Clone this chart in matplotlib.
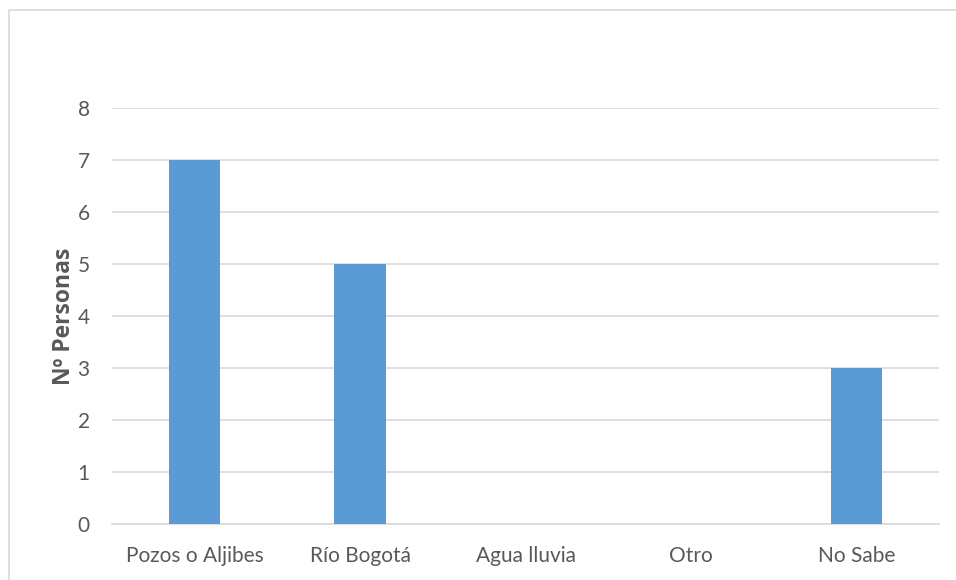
import matplotlib.pyplot as plt
from matplotlib.patches import Rectangle

categories = ["Pozos o Aljibes", "Río Bogotá", "Agua lluvia", "Otro", "No Sabe"]
values = [7, 5, 0, 0, 3]
yticks = [0, 1, 2, 3, 4, 5, 6, 7, 8]

plt.rcParams['font.family'] = ['Lato', 'DejaVu Sans']

W, H = 956, 580
fig = plt.figure(figsize=(W / 100, H / 100), dpi=100)

# outer chart border (only left/top visible in the reference)
fig.patches.append(Rectangle((8.5 / W, -0.1), 1.2, (H - 10) / H + 0.1,
                             transform=fig.transFigure, fill=False,
                             edgecolor="#d9d9d9", lw=1.2))

left, right = 112 / W, 939 / W
bottom, top = (H - 524) / H, (H - 108) / H
ax = fig.add_axes([left, bottom, right - left, top - bottom])

x = range(len(categories))
ax.bar(x, values, width=0.31, color="#5b9bd5", zorder=3)

ax.set_xlim(-0.5, len(categories) - 0.5)
ax.set_ylim(0, 8)
ax.set_yticks(yticks)
ax.set_xticks(list(x))
ax.set_xticklabels(categories)

ax.grid(axis="y", color="#d9d9d9", lw=1.2, zorder=0)
for s in ["top", "right", "left"]:
    ax.spines[s].set_visible(False)
ax.spines["bottom"].set_color("#d9d9d9")
ax.spines["bottom"].set_linewidth(1.2)
ax.tick_params(length=0, labelsize=15, colors="#595959")
ax.tick_params(axis="y", pad=16)
ax.tick_params(axis="x", pad=16)

ax.set_ylabel("Nº Personas", fontsize=16.5, fontweight="bold",
              family=["Open Sans", "DejaVu Sans"],
              color="#595959", labelpad=1)

fig.savefig("out.png", dpi=100)
